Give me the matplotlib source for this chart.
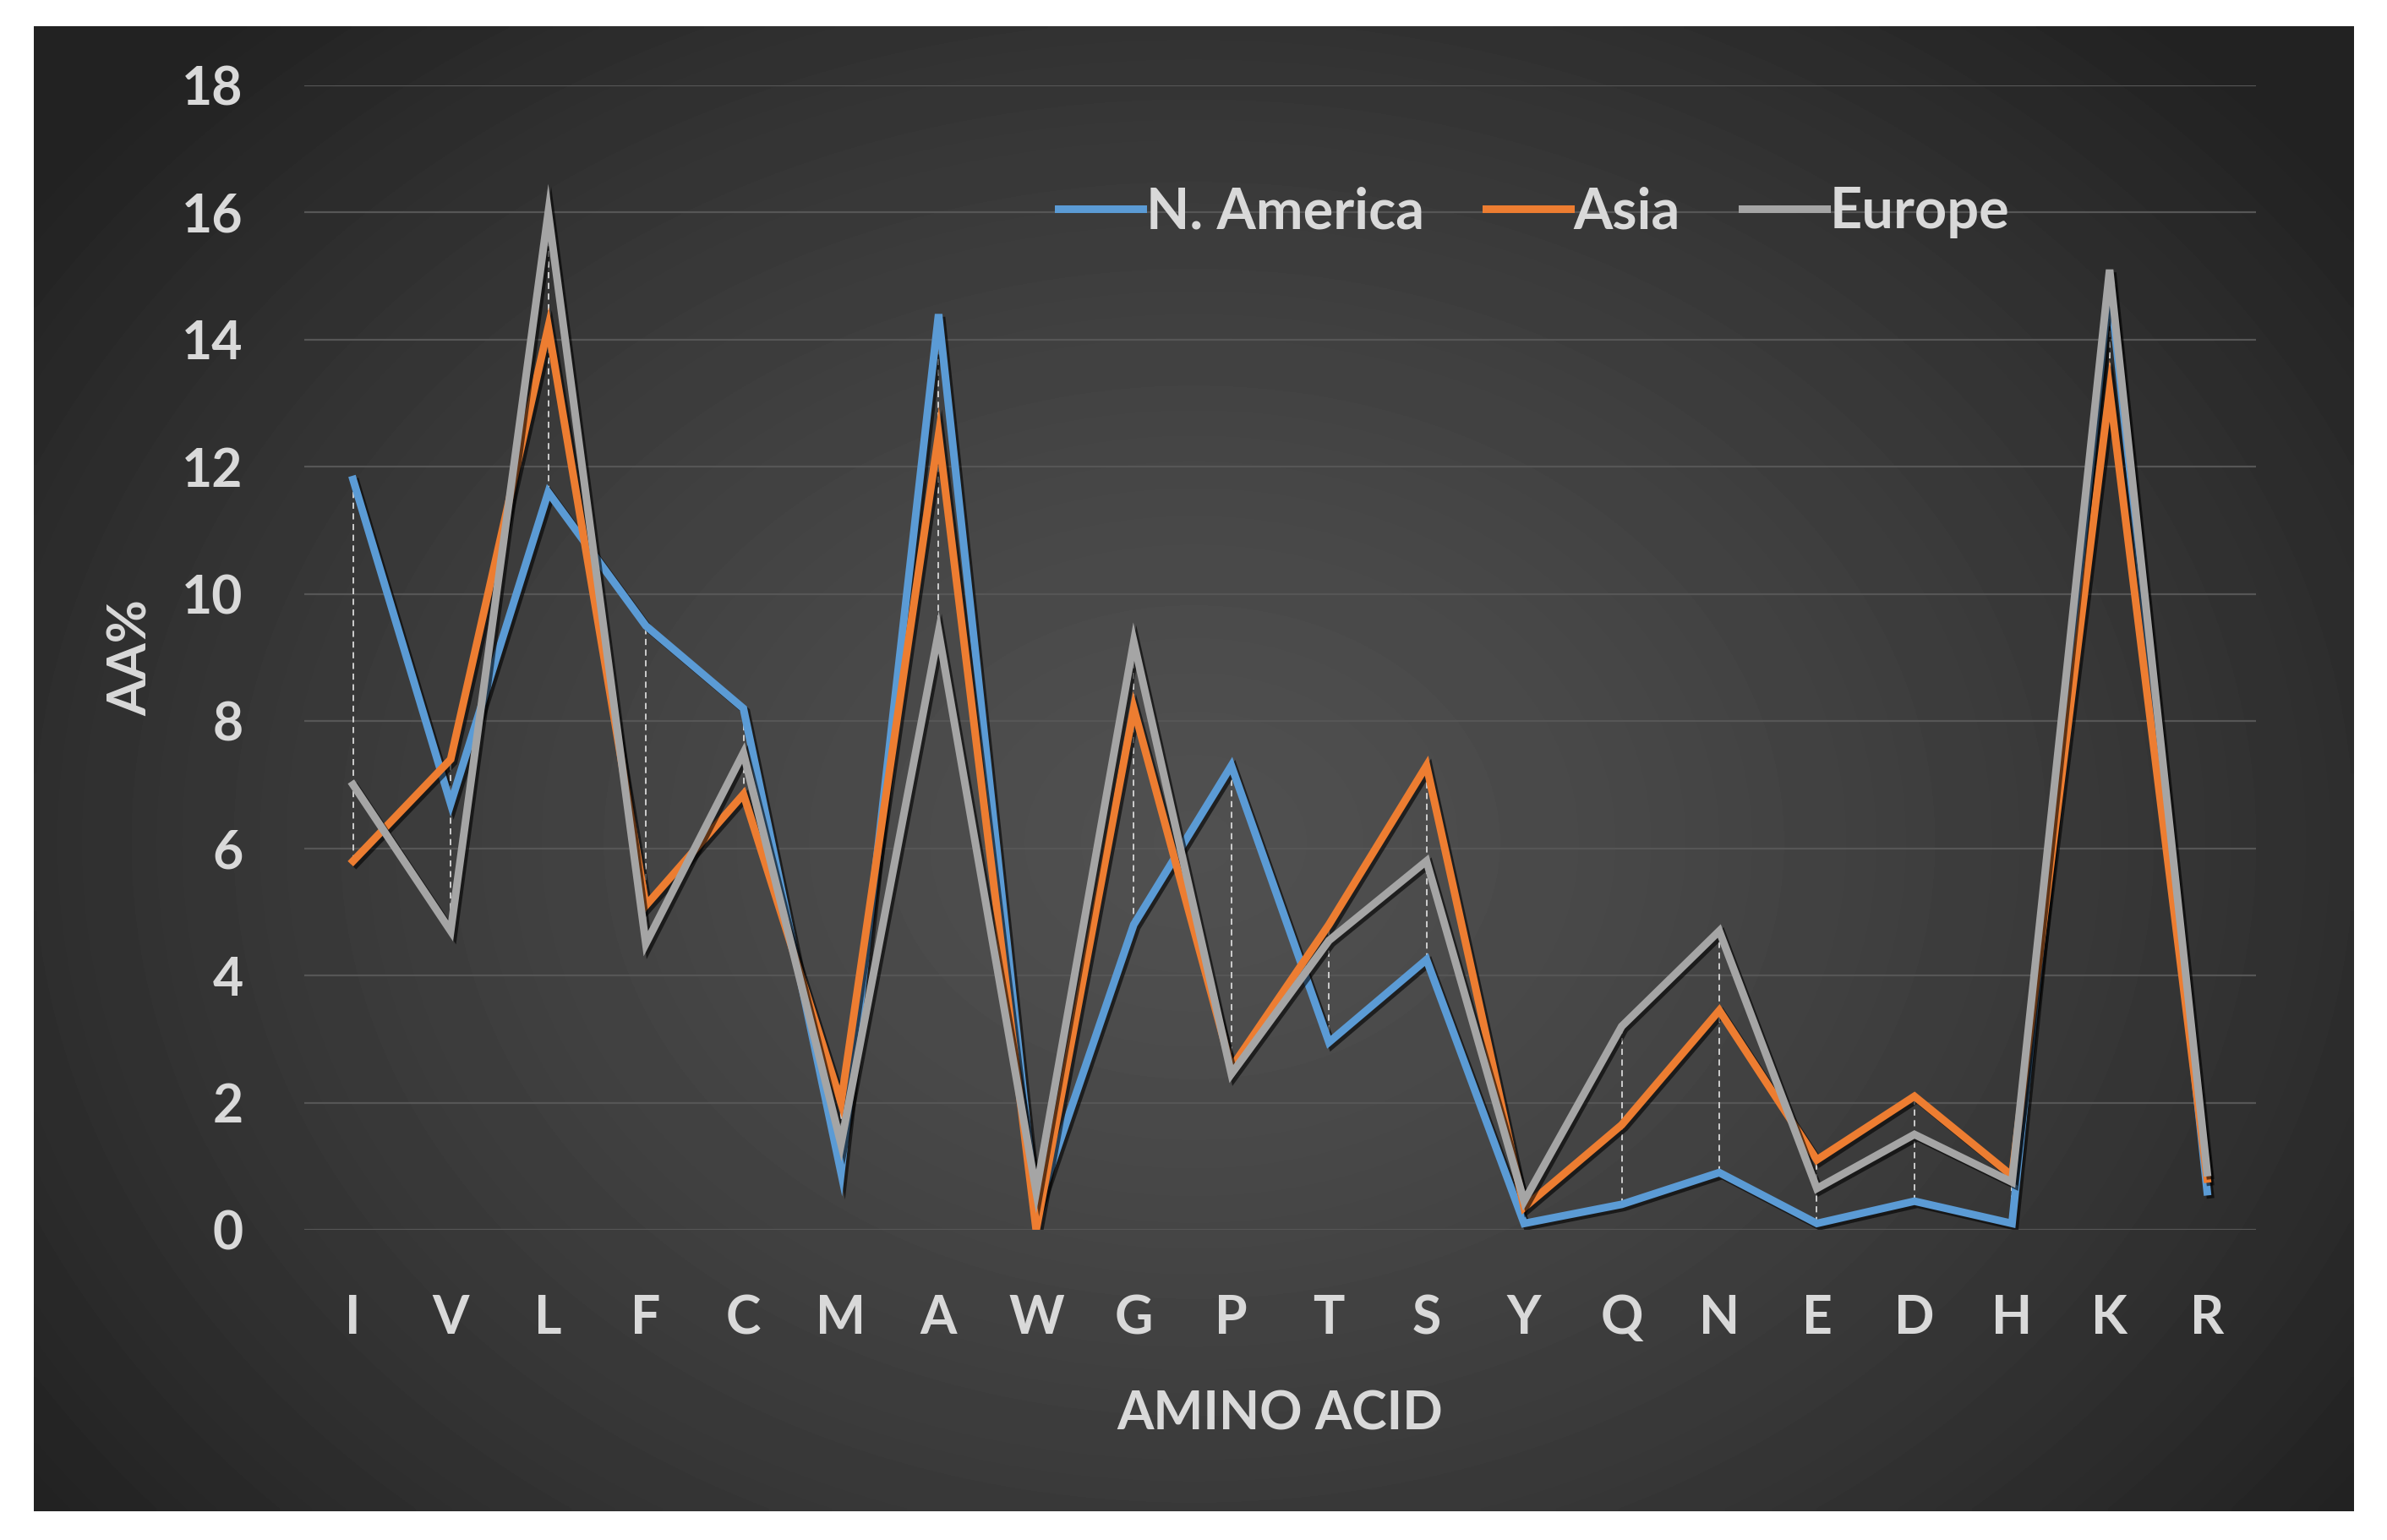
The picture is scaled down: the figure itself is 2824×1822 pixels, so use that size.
import numpy as np
import matplotlib
matplotlib.use('Agg')
import matplotlib.pyplot as plt
import matplotlib.patheffects as pe

# amino acid composition by region
categories = ['I', 'V', 'L', 'F', 'C', 'M', 'A', 'W', 'G', 'P',
              'T', 'S', 'Y', 'Q', 'N', 'E', 'D', 'H', 'K', 'R']
n_america = [11.8, 6.7, 11.6, 9.5, 8.2, 0.9, 14.4, 0.3, 4.8, 7.3,
             2.95, 4.25, 0.1, 0.4, 0.9, 0.1, 0.45, 0.1, 14.9, 0.6]
asia = [5.8, 7.4, 14.2, 5.1, 6.85, 2.0, 12.5, 0.0, 8.2, 2.55,
        4.8, 7.3, 0.35, 1.65, 3.45, 1.1, 2.1, 0.85, 13.2, 0.8]
europe = [7.0, 4.7, 16.0, 4.5, 7.5, 1.35, 9.4, 0.6, 9.25, 2.45,
          4.55, 5.8, 0.45, 3.2, 4.7, 0.65, 1.5, 0.75, 15.1, 0.9]
series_names = ['N. America', 'Asia', 'Europe']
yticks = [0, 2, 4, 6, 8, 10, 12, 14, 16, 18]

COLORS = ['#5B9BD5', '#ED7D31', '#A5A5A5']
TXT = '#d9d9d9'
FONT = ['Lato', 'DejaVu Sans']

W, H = 2824, 1822
fig = plt.figure(figsize=(W / 100, H / 100), dpi=100, facecolor='white')

# dark panel with radial gradient
px0, px1, py0, py1 = 40, 2785, 31, 1788
bg = fig.add_axes([px0 / W, 1 - py1 / H, (px1 - px0) / W, (py1 - py0) / H], zorder=-1)
u, v = np.meshgrid(np.linspace(0, 1, 400), np.linspace(0, 1, 260))
d = np.sqrt(((u - 0.5) / 0.62) ** 2 + ((v - 0.55) / 0.75) ** 2)
img = 80 - 46 * np.clip(d, 0, 1) ** 1.4
bg.imshow(img, cmap='gray', vmin=0, vmax=255, aspect='auto',
          extent=(0, 1, 0, 1), interpolation='bilinear')
bg.set_xlim(0, 1)
bg.set_ylim(0, 1)
bg.axis('off')

ax = fig.add_axes([360 / W, 1 - 1455 / H, (2669 - 360) / W, (1455 - 101) / H])
ax.set_facecolor('none')

x = np.arange(len(categories))
data = [n_america, asia, europe]

# high-low lines
stack = np.array(data)
ax.vlines(x, stack.min(axis=0), stack.max(axis=0), colors='#d8d8d8',
          linewidth=1.3, linestyles=(0, (4, 3)), zorder=2)

for i, (vals, name) in enumerate(zip(data, series_names)):
    ax.plot(x, vals, color=COLORS[i], lw=6.5, label=name, zorder=3 + i,
            solid_joinstyle='miter',
            path_effects=[pe.SimpleLineShadow(offset=(2.5, -2.5), shadow_color='black', alpha=0.6),
                          pe.Normal()])

ax.set_xlim(-0.5, len(categories) - 0.5)
ax.set_ylim(0, 18)
ax.set_yticks(yticks)
ax.set_xticks(x)
ax.set_xticklabels(categories)
ax.yaxis.grid(True, color='#565656', lw=1.6)
ax.set_axisbelow(True)
for s in ax.spines.values():
    s.set_visible(False)
ax.tick_params(axis='both', length=0, colors=TXT, labelsize=45)
ax.tick_params(axis='y', pad=52)
ax.tick_params(axis='x', pad=55)
for lab in ax.get_xticklabels() + ax.get_yticklabels():
    lab.set_family(FONT)
    lab.set_fontweight('bold')

ax.set_xlabel('AMINO ACID', fontsize=45, color=TXT, family=FONT,
              fontweight='bold', labelpad=40)
ax.set_ylabel('AA%', fontsize=45, color=TXT, family=FONT,
              fontweight='bold', labelpad=22)

leg = ax.legend(loc='center', bbox_to_anchor=(0.63, 0.889), ncol=3, frameon=False,
                prop={'family': FONT, 'weight': 'bold', 'size': 48},
                handlelength=1.5, handletextpad=0.05, columnspacing=1.1)
for t in leg.get_texts():
    t.set_color(TXT)
for h in leg.legend_handles:
    h.set_path_effects([])

fig.savefig('out.png', dpi=100, facecolor='white')
